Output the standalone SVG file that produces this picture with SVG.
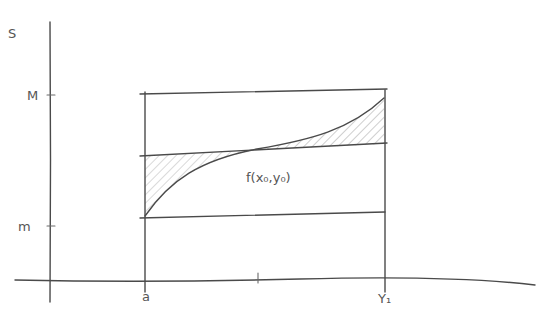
<svg xmlns="http://www.w3.org/2000/svg" width="541" height="323" viewBox="0 0 541 323">
<defs>
<style>
.ln{fill:none;stroke:#4a4a4a;stroke-width:1.4;stroke-linecap:round;stroke-linejoin:round}
.lt{fill:none;stroke:#6a6a6a;stroke-width:1.1;stroke-linecap:round}
.tx{font-family:"DejaVu Sans",sans-serif;fill:#555;font-size:13px}
</style>
<pattern id="hatch" patternUnits="userSpaceOnUse" width="6" height="6" patternTransform="rotate(45)">
<line x1="0" y1="0" x2="0" y2="6" stroke="#888" stroke-width="0.9"/>
</pattern>
</defs>
<rect width="541" height="323" fill="#fff"/>
<g id="shading">
<path d="M145,156 L257,150.4 C200,160 170,180 145,216 Z" fill="url(#hatch)" opacity="0.7"/>
<path d="M257,150 C310,140 350,130 384,98 L384,144 Z" fill="url(#hatch)" opacity="0.9"/>
</g>
<g id="axes">
<path class="ln" d="M50,22 L50.5,160 L50,302"/>
<path class="ln" d="M15,280 Q150,283 300,279 T535,285"/>
<path class="lt" d="M47,95 L55,95 M47,226 L55,226 M258,273 L258,283"/>
</g>
<g id="connectors">
<path class="ln" d="M140,94 L387,89"/>
<path class="ln" d="M140,156 L387,143"/>
<path class="ln" d="M140,218 L385,212"/>
<path class="ln" d="M145,92 L145,292"/>
<path class="ln" d="M385,90 L385,292"/>
<path class="ln" d="M145,216 C170,180 200,160 257,149 C310,140 350,130 384,98"/>
</g>
<g id="labels">
<text class="tx" x="8" y="38">S</text>
<text class="tx" x="27" y="100">M</text>
<text class="tx" x="18" y="231">m</text>
<text class="tx" x="142" y="301">a</text>
<text class="tx" x="378" y="303">Y₁</text>
<text class="tx" x="246" y="182" font-size="12">f(x₀,y₀)</text>
</g>
</svg>
